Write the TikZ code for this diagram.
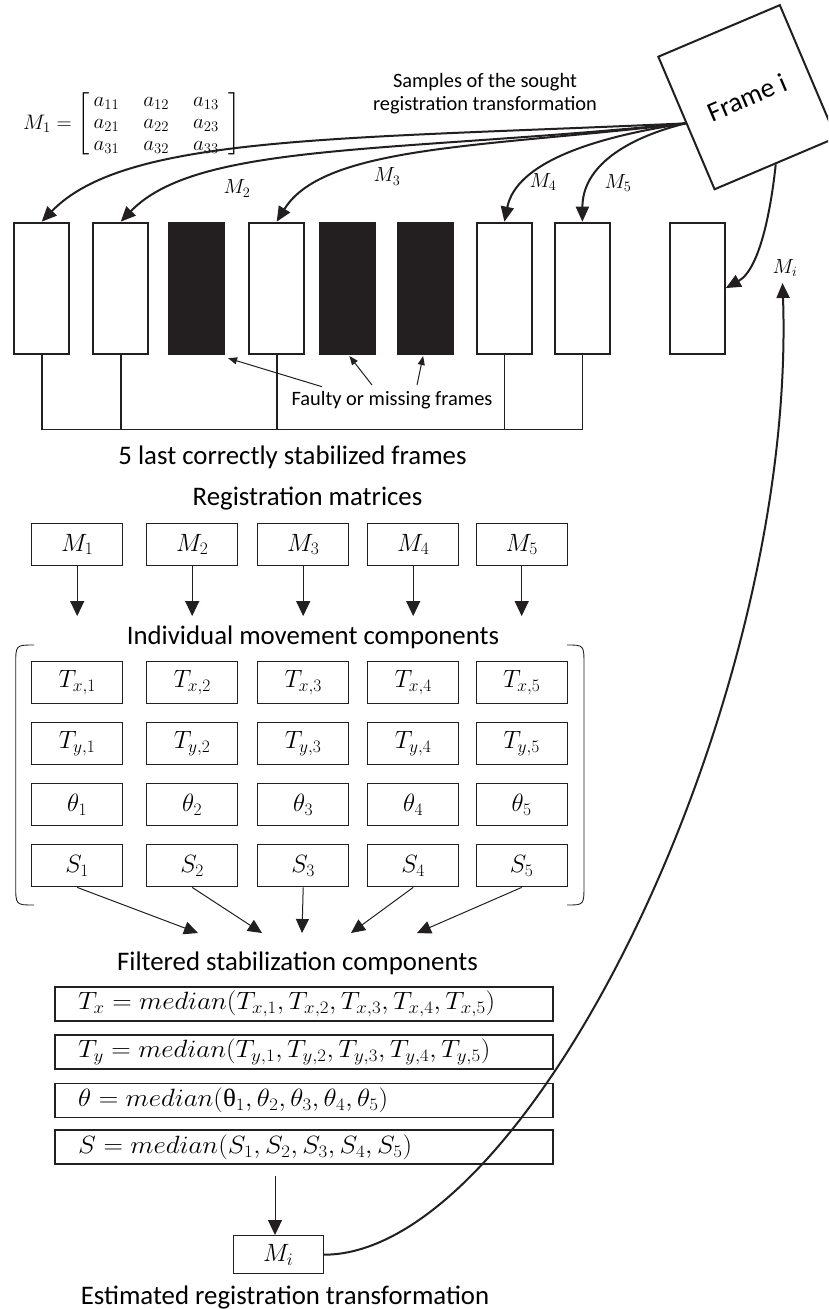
\RequirePackage{fix-cm}
\documentclass[tikz,border=0pt]{standalone}
\usepackage{amsmath}
\usepackage{fontspec}
\setmainfont{Carlito}
\newfontfamily\grk{Liberation Serif}
\usetikzlibrary{arrows.meta}
\definecolor{ink}{RGB}{35,31,32}
\newcommand{\myBoxFont}{\fontsize{25}{28}\selectfont}
\newcommand{\myEqFont}{\fontsize{25}{27}\selectfont}
\newcommand{\myEq}[1]{\scalebox{1.08}[1]{$#1$}}
\begin{document}
\begin{tikzpicture}[x=1pt,y=1pt,
  frm/.style={draw=ink, line width=1.8pt, minimum width=55pt, minimum height=131pt, inner sep=0pt, anchor=north west},
  frmdark/.style={frm, fill=ink},
  bx/.style={draw=ink, line width=1.4pt, minimum width=91pt, minimum height=42pt, inner sep=0pt, anchor=north west, font=\myBoxFont},
  eqb/.style={draw=ink, line width=1.8pt, text width=452pt, inner xsep=23pt, inner ysep=0pt, minimum height=34pt, anchor=north west, align=left, font=\myEqFont},
  ttl/.style={font=\fontsize{26.8}{30}\selectfont, inner sep=0pt},
  sml/.style={font=\fontsize{20.4}{23}\selectfont, inner sep=0pt, align=center},
  lbl/.style={font=\fontsize{20.5}{22}\selectfont, inner sep=0pt},
  curve/.style={draw=ink, line width=2pt, -{Triangle[length=15pt,width=13pt]}},
  thinarrow/.style={draw=ink, line width=1pt, -{Triangle[length=15pt,width=14pt]}},
  smallarrow/.style={draw=ink, line width=1pt, -{Triangle[length=9pt,width=7pt]}}
]
\useasboundingbox (0,0) rectangle (828,-1309);
\clip (0,0) rectangle (828,-1309);
\fill[white] (0,0) rectangle (828,-1309);

% ---- frames
\node[frm]     (f1) at (13.3,-221.7) {};
\node[frm]     (f2) at (92.3,-221.7) {};
\node[frmdark] (f3) at (168.3,-221.7) {};
\node[frm]     (f4) at (248.3,-221.7) {};
\node[frmdark] (f5) at (319,-221.7) {};
\node[frmdark] (f6) at (396.7,-221.7) {};
\node[frm]     (f7) at (476,-221.7) {};
\node[frm]     (f8) at (554,-221.7) {};
\node[frm]     (f9) at (669,-221.7) {};

% ---- Frame i
\node[draw=ink, line width=2pt, minimum width=132pt, minimum height=144pt, inner sep=0pt, rotate=23, fill=white,
      font=\fontsize{27.5}{30}\selectfont] (fi) at (747.2,-97.2) {\raisebox{-4pt}{Frame i}};

% ---- matrix and labels
\node[inner sep=0pt, font=\fontsize{21}{23}\selectfont] (mat) at (132,-124)
  {$M_1 = \left[\renewcommand{\arraystretch}{0.95}\begin{array}{@{\hspace{4pt}}c@{\hspace{24pt}}c@{\hspace{24pt}}c@{\hspace{10pt}}} a_{11} & a_{12} & a_{13}\\ a_{21} & a_{22} & a_{23}\\ a_{31} & a_{32} & a_{33}\end{array}\right]$};
\node[sml] (samples) at (485,-93.5) {Samples of the sought\\registration transformation};
\node[lbl] (l2) at (237,-188.5) {$M_2$};
\node[lbl] (l3) at (387,-176.5) {$M_3$};
\node[lbl] (l4) at (543,-182) {$M_4$};
\node[lbl] (l5) at (618,-183) {$M_5$};
\node[lbl] (li) at (785,-268) {$M_i$};

% ---- curved arrows from Frame i
\draw[curve] (fi.west) to[out=182.6, in=46, out distance=350pt, in distance=120pt] (f1.north);
\draw[curve] (fi.west) to[out=185.7, in=46, out distance=300pt, in distance=110pt] (f2.north);
\draw[curve] (fi.west) to[out=186.8, in=58.5, out distance=200pt, in distance=90pt] (f4.north);
\draw[curve] (fi.west) to[out=188.5, in=78.7, out distance=91pt, in distance=61pt] (f7.north);
\draw[curve] (fi.west) to[out=194, in=90, out distance=62pt, in distance=55pt] (f8.north);
\draw[curve] (fi.south) to[out=264, in=29, out distance=40pt, in distance=40pt] (f9.east);

% ---- bracket under the frames
\coordinate (base) at (0,-429.3);
\draw[ink, line width=1.6pt] (f1.south) -- (f1.south |- base) -- (f8.south |- base) -- (f8.south);
\draw[ink, line width=1.6pt] (f2.south) -- (f2.south |- base);
\draw[ink, line width=1.6pt] (f4.south) -- (f4.south |- base);
\draw[ink, line width=1.6pt] (f7.south) -- (f7.south |- base);

% ---- faulty frames
\node[sml] (faulty) at (392,-400) {Faulty or missing frames};
\coordinate (a1) at (322,-386.7);
\coordinate (a2) at (372,-385);
\coordinate (a3) at (417,-385);
\draw[smallarrow] (a1) -- ([shift={(3,-3.7)}]f3.south east);
\draw[smallarrow] (a2) -- ([shift={(2,-1.5)}]f5.south);
\draw[smallarrow] (a3) -- ([shift={(-2,-1.5)}]f6.south);

% ---- titles
\node[ttl] (t5last) at (292.5,-457) {5 last correctly stabilized frames};
\node[ttl] (treg) at (307.5,-499) {Registration matrices};
\node[ttl] (tind) at (313,-637) {Individual movement components};
\node[ttl] (tfil) at (297.5,-963) {Filtered stabilization components};
\node[ttl] (test) at (285,-1297) {Estimated registration transformation};

% ---- registration matrices
\node[bx] (m1) at (31,-522.7) {$M_1$};
\node[bx] (m2) at (146,-522.7) {$M_2$};
\node[bx] (m3) at (257,-522.7) {$M_3$};
\node[bx] (m4) at (367,-522.7) {$M_4$};
\node[bx] (m5) at (475.5,-522.7) {$M_5$};
\foreach \k in {1,...,5}{
  \coordinate (mt\k) at ([yshift=-50pt]m\k.south);
  \draw[thinarrow] (m\k.south) -- (mt\k);
}

% ---- movement components
\foreach \k/\x in {1/31,2/146,3/257,4/367,5/475.5}{
  \node[bx] (tx\k) at (\x,-661) {$T_{x,\k}$};
  \node[bx] (ty\k) at (\x,-722) {$T_{y,\k}$};
  \node[bx] (th\k) at (\x,-783) {$\theta_{\k}$};
  \node[bx] (s\k)  at (\x,-844) {$S_{\k}$};
}
\draw[ink, line width=0.9pt] (34,-645) .. controls (15.7,-645) .. (15.7,-665) -- (15.7,-885) .. controls (15.7,-905) .. (34,-905);
\draw[ink, line width=0.9pt] (567,-645) .. controls (584,-645) .. (584,-665) -- (584,-885) .. controls (584,-905) .. (567,-905);

\coordinate (c1) at (198,-933);
\coordinate (c2) at (262,-933);
\coordinate (c3) at (302,-933);
\coordinate (c4) at (351,-933);
\coordinate (c5) at (417,-933);
\foreach \k in {1,...,5}{
  \draw[draw=ink, line width=1pt, -{Triangle[length=14pt,width=13pt]}] (s\k.south) -- (c\k);
}

% ---- filtered components
\node[eqb] (e1) at (54.3,-986) {\myEq{T_x = median(T_{x,1}, T_{x,2}, T_{x,3}, T_{x,4}, T_{x,5})}};
\node[eqb] (e2) at (54.3,-1034) {\myEq{T_y = median(T_{y,1}, T_{y,2}, T_{y,3}, T_{y,4}, T_{y,5})}};
\node[eqb] (e3) at (54.3,-1082.5) {\myEq{\theta = median(\text{\grk θ}_1, \theta_2, \theta_3, \theta_4, \theta_5)}};
\node[eqb] (e4) at (54.3,-1129.3) {\myEq{S = median(S_1, S_2, S_3, S_4, S_5)}};

\coordinate (eout) at (275,-1176);
\node[draw=ink, line width=1.4pt, minimum width=90pt, minimum height=38pt, inner sep=0pt, anchor=north west, font=\myBoxFont] (mi) at (232.5,-1235) {$M_i$};
\draw[thinarrow] (eout) -- (eout |- mi.north);

\coordinate (mitip) at (782.5,-283);
\draw[curve] (mi.east) to[out=0, in=-88, out distance=205pt, in distance=420pt] (mitip);
\end{tikzpicture}
\end{document}
